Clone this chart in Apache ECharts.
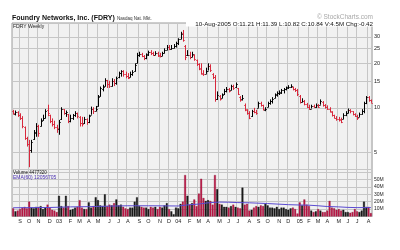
<!DOCTYPE html>
<html><head><meta charset="utf-8">
<script src="https://cdn.jsdelivr.net/npm/echarts@6/dist/echarts.min.js"></script>
<style>html,body{margin:0;padding:0;background:#fff}#c{width:400px;height:250px}</style>
</head><body><div id="c"></div>
<script>
// Weekly bars (week-ending dates), FDRY Aug 2002 - Aug 2005
const dates = [
'2002-08-16','2002-08-23','2002-08-30','2002-09-06','2002-09-13','2002-09-20','2002-09-27','2002-10-04','2002-10-11','2002-10-18',
'2002-10-25','2002-11-01','2002-11-08','2002-11-15','2002-11-22','2002-11-29','2002-12-06','2002-12-13','2002-12-20','2002-12-27',
'2003-01-03','2003-01-10','2003-01-17','2003-01-24','2003-01-31','2003-02-07','2003-02-14','2003-02-21','2003-02-28','2003-03-07',
'2003-03-14','2003-03-21','2003-03-28','2003-04-04','2003-04-11','2003-04-18','2003-04-25','2003-05-02','2003-05-09','2003-05-16',
'2003-05-23','2003-05-30','2003-06-06','2003-06-13','2003-06-20','2003-06-27','2003-07-04','2003-07-11','2003-07-18','2003-07-25',
'2003-08-01','2003-08-08','2003-08-15','2003-08-22','2003-08-29','2003-09-05','2003-09-12','2003-09-19','2003-09-26','2003-10-03',
'2003-10-10','2003-10-17','2003-10-24','2003-10-31','2003-11-07','2003-11-14','2003-11-21','2003-11-28','2003-12-05','2003-12-12',
'2003-12-19','2003-12-26','2004-01-02','2004-01-09','2004-01-16','2004-01-23','2004-01-30','2004-02-06','2004-02-13','2004-02-20',
'2004-02-27','2004-03-05','2004-03-12','2004-03-19','2004-03-26','2004-04-02','2004-04-09','2004-04-16','2004-04-23','2004-04-30',
'2004-05-07','2004-05-14','2004-05-21','2004-05-28','2004-06-04','2004-06-11','2004-06-18','2004-06-25','2004-07-02','2004-07-09',
'2004-07-16','2004-07-23','2004-07-30','2004-08-06','2004-08-13','2004-08-20','2004-08-27','2004-09-03','2004-09-10','2004-09-17',
'2004-09-24','2004-10-01','2004-10-08','2004-10-15','2004-10-22','2004-10-29','2004-11-05','2004-11-12','2004-11-19','2004-11-26',
'2004-12-03','2004-12-10','2004-12-17','2004-12-24','2004-12-31','2005-01-07','2005-01-14','2005-01-21','2005-01-28','2005-02-04',
'2005-02-11','2005-02-18','2005-02-25','2005-03-04','2005-03-11','2005-03-18','2005-03-25','2005-04-01','2005-04-08','2005-04-15',
'2005-04-22','2005-04-29','2005-05-06','2005-05-13','2005-05-20','2005-05-27','2005-06-03','2005-06-10','2005-06-17','2005-06-24',
'2005-07-01','2005-07-08','2005-07-15','2005-07-22','2005-07-29','2005-08-05','2005-08-10'];

const open = [
9.5,9.1,9.4,8.9,8.6,7.4,6.3,5.7,5.2,6.2, 6.8,7.5,7.6,8.3,8.6,9.7,9.0,8.2,7.8,7.4,
7.2,8.4,9.8,9.2,9.1,8.2,8.6,8.9,9.2,8.7, 7.9,7.9,8.4,8.0,9.0,9.9,9.6,10.3,12.0,13.4,
14.0,15.3,14.4,14.0,15.2,14.6,16.0,17.1,17.6,16.9, 16.3,16.0,17.0,17.6,19.9,22.8,23.1,22.3,21.5,22.9,
23.6,23.4,22.8,23.3,22.5,22.3,23.3,24.6,25.6,24.9, 25.3,26.1,27.2,28.9,31.6,26.0,22.5,22.6,22.0,22.8,
21.0,19.6,18.4,17.1,17.0,17.8,19.0,17.0,16.1,11.5, 12.1,11.6,12.3,13.0,13.4,13.1,14.0,13.7,13.5,11.9,
11.4,10.5,9.7,9.3,8.8,9.5,9.4,10.0,10.8,10.4, 9.7,10.1,10.8,11.1,11.6,12.2,12.6,12.6,13.1,13.3,
13.6,13.8,13.9,13.4,13.2,12.1,11.0,11.1,10.6,10.1, 9.9,10.3,10.1,10.5,10.5,11.0,10.5,10.2,9.9,9.4,
8.9,8.6,8.4,8.4,8.4,9.0,9.3,9.7,9.5,9.1, 8.8,8.7,9.1,9.5,10.8,11.9,11.21];

const high = [
9.7,9.6,9.5,9.2,8.8,7.5,6.4,6.1,6.1,7.1, 7.9,7.7,8.5,9.0,9.8,10.5,9.0,8.5,8.2,7.7,
8.3,10.1,9.8,9.6,9.1,9.0,9.1,9.5,9.3,8.8, 8.7,8.7,8.5,9.0,10.2,10.1,10.3,12.2,13.9,14.3,
15.8,15.4,15.2,15.8,15.6,16.2,17.5,17.9,17.9,17.5, 17.1,17.5,17.9,19.9,23.4,23.8,23.4,22.6,23.2,24.2,
24.4,23.8,24.0,23.8,23.4,23.8,25.1,26.4,26.4,26.4, 26.8,27.8,29.3,32.4,33.3,26.4,24.4,23.8,23.8,22.9,
21.1,19.9,19.9,17.9,18.6,19.9,19.6,17.1,16.6,12.9, 12.2,12.5,13.4,13.8,13.6,14.3,14.3,14.8,13.6,12.0,
12.2,10.7,9.8,9.5,9.7,10.0,9.7,11.0,11.0,10.5, 10.1,11.0,11.4,11.8,12.5,12.9,13.1,13.4,13.6,13.9,
14.2,14.4,13.9,13.6,13.4,12.2,11.6,11.3,10.8,10.5, 10.5,10.5,10.7,10.6,11.4,11.1,10.6,10.4,10.1,9.5,
9.0,8.8,8.7,8.6,9.2,9.5,9.9,9.8,9.5,9.2, 9.0,9.3,9.8,11.0,12.0,12.0,11.39];

const low = [
9.0,8.9,8.7,8.3,7.3,6.1,5.5,4.0,5.0,6.1, 6.4,6.4,7.5,8.2,8.5,8.8,7.9,7.5,7.2,6.8,
6.6,8.3,9.0,8.7,7.9,8.0,8.3,8.7,8.5,7.5, 7.5,7.8,7.7,7.9,9.0,9.1,9.5,10.2,11.9,12.9,
13.9,13.6,13.6,13.9,14.0,14.3,15.8,16.2,16.2,15.8, 15.6,16.0,16.4,17.5,19.9,22.0,21.9,20.9,21.2,22.3,
22.6,22.3,22.6,22.0,21.8,22.3,23.2,24.4,24.4,24.6, 25.1,25.4,26.4,28.9,27.8,20.9,22.3,21.2,21.9,20.7,
19.1,17.9,16.8,16.4,16.9,17.8,17.4,15.6,11.0,11.3, 11.2,11.6,12.2,12.7,12.7,13.1,13.2,13.6,12.2,11.0,
11.2,9.5,9.0,8.4,8.7,9.2,9.0,10.0,10.2,9.6, 9.5,10.1,10.5,10.7,11.6,11.9,12.2,12.4,12.5,13.1,
13.4,13.6,13.1,12.8,12.0,10.7,10.9,10.4,10.0,9.7, 9.9,10.0,10.0,10.0,10.5,10.2,9.9,9.7,9.3,8.75,
8.5,8.2,8.1,7.9,8.4,8.8,9.2,9.2,8.9,8.7, 8.3,8.7,9.0,9.2,10.6,11.0,10.82];

const close = [
9.2,9.4,8.9,8.6,7.5,6.3,5.7,5.2,5.9,6.9, 7.5,6.8,8.2,8.6,9.6,9.2,8.2,7.8,7.4,7.3,
8.0,9.9,9.3,9.4,8.2,8.6,8.9,9.3,8.8,7.9, 7.8,8.4,8.0,8.8,9.9,9.6,9.8,11.8,13.5,13.9,
15.5,14.4,14.0,15.2,14.6,15.9,17.2,17.6,16.8,16.3, 15.9,17.0,17.5,19.5,22.8,23.0,22.4,21.5,22.8,23.6,
23.4,22.8,23.3,22.4,22.2,23.2,24.6,25.5,25.0,25.3, 26.2,27.3,28.8,31.5,28.5,21.8,22.6,21.8,23.0,21.2,
19.6,18.3,17.0,16.8,17.8,19.0,17.9,16.0,11.4,12.2, 11.5,12.2,13.0,13.4,13.0,14.0,13.6,14.4,12.4,11.3,
11.6,9.8,9.2,8.6,9.5,9.4,9.2,10.7,10.4,9.8, 9.9,10.8,11.1,11.4,12.3,12.6,12.8,13.2,13.3,13.7,
13.9,14.1,13.4,13.2,12.3,11.0,11.2,10.6,10.2,9.9, 10.3,10.2,10.5,10.2,11.1,10.5,10.1,9.9,9.5,8.9,
8.6,8.4,8.3,8.1,9.0,9.3,9.7,9.5,9.1,8.8, 8.5,9.1,9.6,10.8,11.9,11.26,10.84];

// weekly volume, millions of shares
const volume = [
11,7,8,10,12,13,11,20,12,11, 13,13,14,10,12,16,12,9,8,6,
28,14,12,28,14,9,10,12,13,22, 12,10,10,19,12,14,26,22,15,14,
30,14,16,15,18,23,15,16,13,11, 10,12,12,20,26,14,13,12,12,10,
13,12,13,10,13,12,15,18,10,7, 3,12,11,17,20,56,28,16,18,23,
14,31,51,25,21,22,21,16,56,37, 17,16,13,13,12,14,16,13,12,11,
39,16,17,8,9,12,14,13,15,14, 17,15,12,12,11,13,10,12,12,10,
9,11,12,10,4,19,15,23,16,14, 8,6,7,10,8,6,6,8,21,12,
11,9,10,8,9,6,6,5,6,10, 7,6,8,20,13,13,4.48];

// EMA(60) of volume read at month starts (week index -> millions)
const emaWeek = [0,7,16,25,33,42,50,59,68,72,77,81,85,90,94,98,103,111,120,125,129,133,137,142,146,150,156];
const emaVal  = [11.8,12.0,12.2,13.0,13.3,14.0,14.5,14.5,14.3,14.2,16.0,16.8,18.5,19.5,19.3,18.8,18.5,17.5,16.0,15.5,15.3,14.5,13.5,13.0,12.3,12.0,12.06];

const priceTicks = [5,10,15,20,25,30];
const monthLetters = ['J','F','M','A','M','J','J','A','S','O','N','D'];

const FONT = '"Liberation Sans", Arial, sans-serif';
const UP = '#000000', DOWN = '#d8283c', VUP = '#1c1c1c', VDOWN = '#c01848';
const GRID = '#c6c6c6', BG = '#f1f1f1';

const isUp = close.map((c, i) => i === 0 ? c >= open[0] : c >= close[i - 1]);
const monthStart = i => i > 0 && dates[i].slice(5, 7) !== dates[i - 1].slice(5, 7);
const monthLabel = d => { const m = +d.slice(5, 7); return m === 1 ? d.slice(2, 4) : monthLetters[m - 1]; };

const ohlc = dates.map((d, i) => [i, open[i], high[i], low[i], close[i], isUp[i] ? 1 : 0]);
const emaSeries = dates.map(() => null);
emaWeek.forEach((w, k) => { emaSeries[w] = emaVal[k]; });

function renderOHLC(params, api) {
  const i = api.value(0);
  const h = api.coord([i, api.value(2)]);
  const l = api.coord([i, api.value(3)]);
  const o = api.coord([i, api.value(1)]);
  const c = api.coord([i, api.value(4)]);
  const col = api.value(5) ? UP : DOWN;
  const x = Math.round(h[0]) + 0.5;
  const oy = Math.round(o[1]) + 0.5, cy = Math.round(c[1]) + 0.5;
  const st = { stroke: col, lineWidth: 1 };
  return { type: 'group', children: [
    { type: 'line', shape: { x1: x, y1: h[1], x2: x, y2: l[1] }, style: st },
    { type: 'line', shape: { x1: x - 1.2, y1: oy, x2: x, y2: oy }, style: st },
    { type: 'line', shape: { x1: x, y1: cy, x2: x + 1.2, y2: cy }, style: st }
  ]};
}

const chart = echarts.init(document.getElementById('c'), null, { renderer: 'canvas' });
const txt = (text, x, y, size, opts) => Object.assign({
  type: 'text', x: x, y: y, z: 100,
  style: Object.assign({ text: text, fill: '#111', font: size + 'px ' + FONT, textAlign: 'left', textVerticalAlign: 'middle', align: 'left', verticalAlign: 'middle' }, opts || {})
});

chart.setOption({
  animation: false,
  backgroundColor: '#ffffff',
  textStyle: { fontFamily: FONT },
  grid: [
    { left: 12, width: 360, top: 23, height: 146.5, show: true, backgroundColor: BG, borderColor: '#9a9a9a', borderWidth: 1 },
    { left: 12, width: 360, top: 169.5, height: 47, show: true, backgroundColor: BG, borderColor: '#9a9a9a', borderWidth: 1 }
  ],
  xAxis: [
    { type: 'category', gridIndex: 0, data: dates, boundaryGap: true,
      axisLine: { show: false }, axisTick: { show: false }, axisLabel: { show: false },
      splitLine: { show: true, interval: (i) => monthStart(i), lineStyle: { color: GRID, width: 1 } } },
    { type: 'category', gridIndex: 1, data: dates, boundaryGap: true,
      axisLine: { show: false }, axisTick: { show: false },
      axisLabel: { show: true, interval: (i) => monthStart(i), formatter: (v) => monthLabel(v), fontSize: 5.5, color: '#222', margin: 2, fontFamily: FONT },
      splitLine: { show: true, interval: (i) => monthStart(i), lineStyle: { color: GRID, width: 1 } } }
  ],
  yAxis: [
    { type: 'log', gridIndex: 0, position: 'right', min: 3.86, max: 37.1,
      axisLine: { show: false }, axisTick: { show: false }, axisLabel: { show: false }, splitLine: { show: false } },
    { type: 'value', gridIndex: 1, position: 'right', min: 0, max: 63.5, interval: 10,
      axisLine: { show: false }, axisTick: { show: false },
      axisLabel: { fontSize: 5, color: '#222', margin: 2, fontFamily: FONT, formatter: (v) => (v > 0 && v < 60) ? v + 'M' : '' },
      splitLine: { show: true, lineStyle: { color: GRID, width: 1 } } }
  ],
  series: [
    { type: 'line', xAxisIndex: 0, yAxisIndex: 0, data: [], z: 1, silent: true,
      markLine: { silent: true, symbol: 'none', animation: false, precision: 0,
        lineStyle: { color: GRID, type: 'solid', width: 1 },
        label: { show: true, position: 'end', formatter: '{c}', fontSize: 5.5, color: '#222', distance: 2, fontFamily: FONT },
        emphasis: { disabled: true },
        data: priceTicks.map(v => ({ yAxis: v })) } },
    { type: 'custom', xAxisIndex: 0, yAxisIndex: 0, data: ohlc, renderItem: renderOHLC, z: 5, silent: true,
      encode: { x: 0, y: [1, 2, 3, 4] } },
    { type: 'bar', xAxisIndex: 1, yAxisIndex: 1, barCategoryGap: '18%', z: 4, silent: true,
      data: volume.map((v, i) => ({ value: v, itemStyle: { color: isUp[i] ? VUP : VDOWN, borderColor: isUp[i] ? '#000' : '#7a1030', borderWidth: 0.3 } })) },
    { type: 'line', xAxisIndex: 1, yAxisIndex: 1, data: emaSeries, connectNulls: true, symbol: 'none', smooth: false, z: 6, silent: true,
      lineStyle: { color: '#5a4ad0', width: 1 } }
  ],
  graphic: [
    txt('Foundry Networks, Inc. (FDRY)', 12, 18.5, 7, { font: 'bold 7px ' + FONT, fill: '#111' }),
    txt('Nasdaq Nat. Mkt.', 117, 19, 4.5, { fill: '#333' }),
    txt('\u00A9 StockCharts.com', 373, 17.5, 6.5, { fill: '#a8a8a8', textAlign: 'right', align: 'right' }),
    { type: 'rect', shape: { x: 186, y: 20.5, width: 187, height: 6 }, style: { fill: '#ffffff' }, z: 99 },
    txt('10-Aug-2005 O:11.21 H:11.39 L:10.82 C:10.84 V:4.5M Chg:-0.42', 373, 24, 6.2, { textAlign: 'right', align: 'right', fill: '#111' }),
    txt('FDRY Weekly', 13, 26.5, 5, { fill: '#222' }),
    txt('Volume 4477320', 13, 173, 4.5, { fill: '#111' }),
    txt('EMA(60) 12056705', 13, 177.5, 5, { fill: '#4a30b0' })
  ]
});
</script>
</body></html>
